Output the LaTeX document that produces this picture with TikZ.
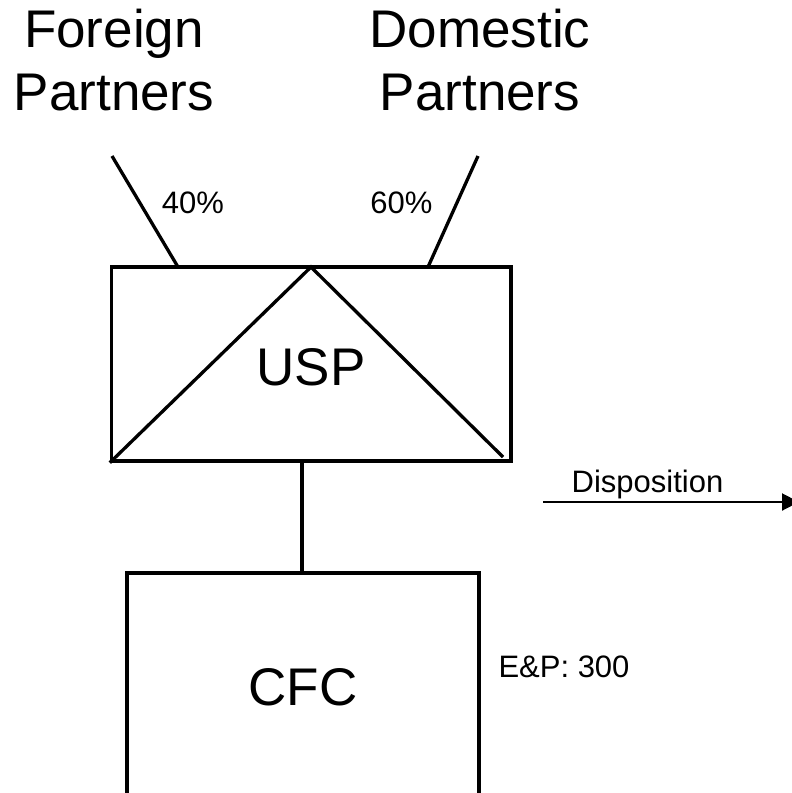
\documentclass[tikz,border=0pt]{standalone}
\usepackage{fontspec}
\setmainfont{Liberation Sans}
\usetikzlibrary{arrows.meta,calc}
\begin{document}
\begin{tikzpicture}[x=1pt,y=-1pt,
  line/.style={line width=3.3pt,black},
  big/.style={font=\fontsize{53}{63}\selectfont},
  small/.style={font=\fontsize{31}{36}\selectfont},
  boxed/.style={draw,line width=3.3pt,minimum width=399.5pt,minimum height=194pt,inner sep=0pt}]
\useasboundingbox (0,0) rectangle (792,793);
% titles
\node[big,align=center,anchor=base] (fp) at (114,110) {Foreign\\Partners};
\node[big,align=center,anchor=base] (dp) at (480,110) {Domestic\\Partners};
% USP box
\node[boxed] (usp) at (311.25,364) {};
\node[big,anchor=base] (usplabel) at (311,385) {USP};
\coordinate (apex) at (311,267);
\draw[line] (usp.south west) -- (apex) -- (503,457);
% partner links
\coordinate (fpend) at (112,156);
\coordinate (dpend) at (478,156);
\draw[line] (fpend) -- (178,267);
\draw[line] (dpend) -- (428,267);
\node[small,anchor=base] (p40) at (193,213) {40\%};
\node[small,anchor=base] (p60) at (401.5,213) {60\%};
% CFC
\coordinate (cfctop) at (302,573);
\draw[line] (usp.south -| cfctop) -- (cfctop);
\draw[line] (127,800) -- (127,573) -- (479,573) -- (479,800);
\node[big,anchor=base] (cfc) at (303,705) {CFC};
\node[small,anchor=base] (ep) at (564,677) {E\&P: 300};
% disposition
\coordinate (dstart) at (543,502);
\coordinate (dend) at (799,502);
\draw[line width=2pt,-{Triangle[length=17pt,width=17pt]}] (dstart) -- (dend);
\node[small,anchor=base] (disp) at (647.5,492) {Disposition};
\end{tikzpicture}
\end{document}
